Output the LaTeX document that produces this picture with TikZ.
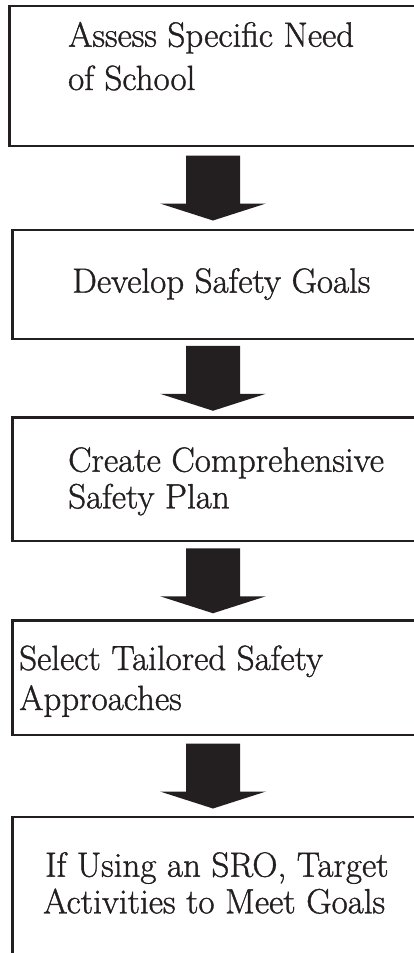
\documentclass[tikz,border=0pt]{standalone}
\usepackage{fontspec}
\setmainfont{Latin Modern Roman}[FakeBold=1.1]
\usetikzlibrary{calc}
\definecolor{ink}{HTML}{231F20}
\begin{document}
\begin{tikzpicture}[x=1pt,y=-1pt,
  box/.style={draw=ink, line width=2.6pt, rectangle, minimum width=460pt, outer sep=0pt, inner sep=0pt, anchor=north west},
  lbl/.style={anchor=base west, inner sep=0pt, text=ink, font=\fontsize{35}{40}\selectfont},
  arr/.style={fill=ink}]
\useasboundingbox (0,0) rectangle (414,953);
\clip (0,0) rectangle (414,953);
\node[box, minimum height=140pt] (b1) at (9.5,6) {};
\node[box, minimum height=109pt] (b2) at (12.5,230) {};
\node[box, minimum height=123.5pt] (b3) at (12.5,417.5) {};
\node[box, minimum height=114.5pt] (b4) at (12.5,620.5) {};
\node[box, minimum height=190pt] (b5) at (12.5,817) {};
\node[lbl] (t1a) at (68,46.7) {Assess Specific Need};
\node[lbl] (t1b) at (68,90) {of School};
\node[lbl] (t2a) at (72,292.7) {Develop Safety Goals};
\node[lbl] (t3a) at (68,471.7) {Create Comprehensive};
\node[lbl] (t3b) at (68,508.3) {Safety Plan};
\node[lbl] (t4a) at (19,670) {Select Tailored Safety};
\node[lbl] (t4b) at (19,710) {Approaches};
\node[lbl] (t5a) at (45,876.7) {If Using an SRO, Target};
\node[lbl] (t5b) at (43,913.3) {Activities to Meet Goals};
\coordinate (axis) at (213,0);
\foreach \a/\b in {b1/b2,b2/b3,b3/b4,b4/b5}
  \fill[arr] let \p1=($(\a.south -| axis)!0.5!(\b.north -| axis)$) in
    (\x1-27pt,\y1+32.5pt) -- (\x1+27pt,\y1+32.5pt) -- (\x1+27pt,\y1-15.5pt)
    -- (\x1+53pt,\y1-15.5pt) -- (\x1,\y1-32.5pt) -- (\x1-53pt,\y1-15.5pt)
    -- (\x1-27pt,\y1-15.5pt) -- cycle;
\end{tikzpicture}
\end{document}
